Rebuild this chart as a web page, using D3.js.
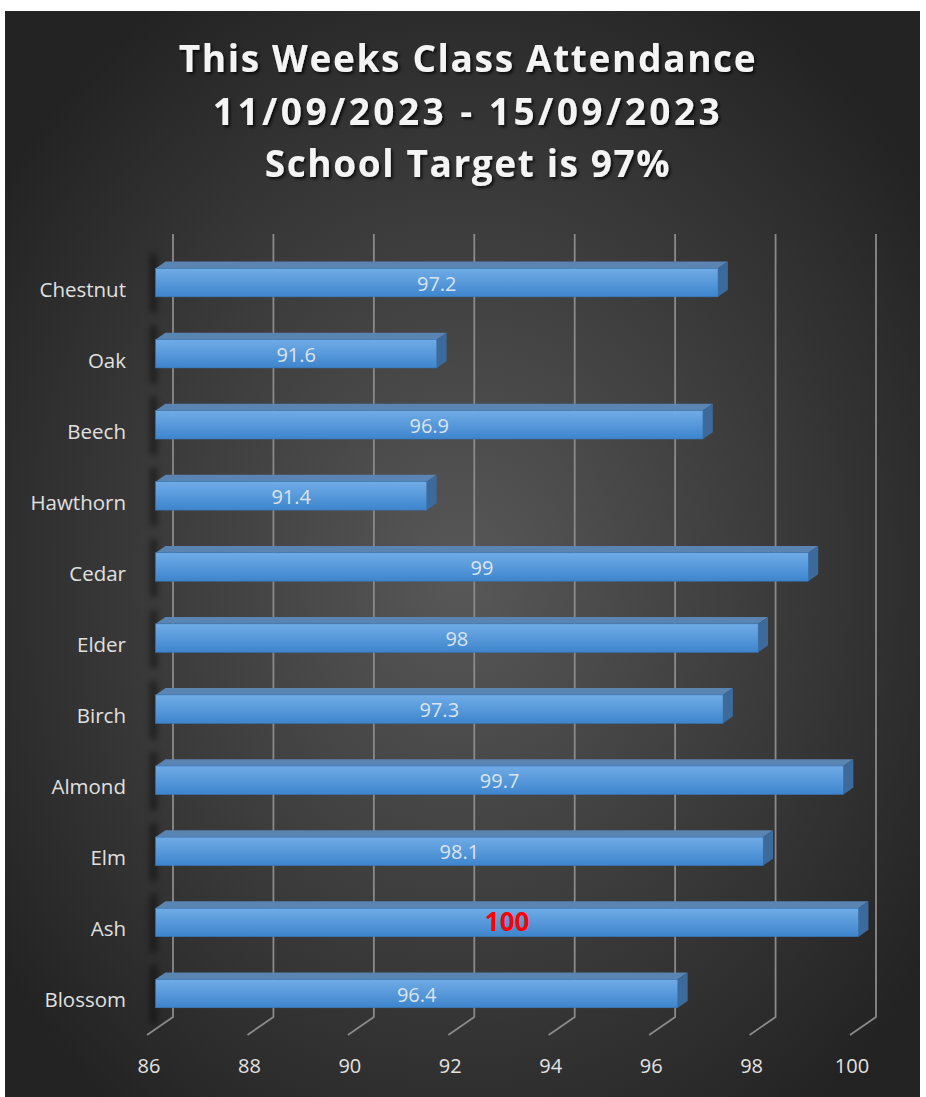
<!DOCTYPE html>
<html><head><meta charset="utf-8">
<script src="https://cdn.jsdelivr.net/npm/d3@7"></script>
<style>html,body{margin:0;padding:0;background:#fff;}svg{display:block;}</style>
</head><body>
<svg id="c" width="926" height="1097"></svg>
<script>
const titleLines = ["This Weeks Class Attendance", "11/09/2023 - 15/09/2023", "School Target is 97%"];
const categories = ["Chestnut","Oak","Beech","Hawthorn","Cedar","Elder","Birch","Almond","Elm","Ash","Blossom"];
const values = [97.2, 91.6, 96.9, 91.4, 99, 98, 97.3, 99.7, 98.1, 100, 96.4];
const tickValues = [86, 88, 90, 92, 94, 96, 98, 100];
const highlight = "Ash";

const svg = d3.select("#c");
const defs = svg.append("defs");
const bg = defs.append("radialGradient").attr("id","bg").attr("cx","50%").attr("cy","52%").attr("r","62%");
bg.append("stop").attr("offset","0%").attr("stop-color","#585858");
bg.append("stop").attr("offset","100%").attr("stop-color","#232323");
const fg = defs.append("linearGradient").attr("id","front").attr("x1",0).attr("y1",0).attr("x2",0).attr("y2",1);
fg.append("stop").attr("offset","0%").attr("stop-color","#70ace6");
fg.append("stop").attr("offset","100%").attr("stop-color","#3e85cd");
const sh = defs.append("filter").attr("id","tshadow").attr("x","-10%").attr("y","-20%").attr("width","120%").attr("height","150%");
sh.append("feDropShadow").attr("dx",2).attr("dy",2).attr("stdDeviation",1.5).attr("flood-color","#000").attr("flood-opacity",0.75);
const blur = defs.append("filter").attr("id","blur").attr("x","-200%").attr("y","-50%").attr("width","500%").attr("height","200%");
blur.append("feGaussianBlur").attr("stdDeviation",3);

svg.append("rect").attr("x",5).attr("y",11).attr("width",915).attr("height",1086).attr("fill","url(#bg)");

// 3D geometry
const DX = -26, DY = 18;           // full depth offset (back -> front)
const tBack = 0.29, tFront = 0.67; // bar depth positions
const x = d3.scaleLinear().domain([86,100]).range([173,876]);
const y = d3.scaleBand().domain(categories).range([235,1017]).paddingInner(0.6).paddingOuter(0.3);
const gridTop = 234, gridBottom = 1017;

// gridlines
const grid = svg.append("g").attr("stroke","#8a8a8a").attr("stroke-width",1.8).attr("fill","none");
tickValues.forEach(v => {
  grid.append("path").attr("d", `M${x(v)},${gridTop}L${x(v)},${gridBottom}L${x(v)+DX},${gridBottom+DY}`);
});

// tick labels
svg.append("g").selectAll("text").data(tickValues).join("text")
  .attr("x", d => x(d)+DX+2).attr("y", 1073)
  .attr("text-anchor","middle").attr("fill","#e2e2e2")
  .attr("font-family","'Open Sans', sans-serif").attr("font-size",20)
  .text(d => d);

// category labels
svg.append("g").selectAll("text").data(categories).join("text")
  .attr("x", 126).attr("y", d => y(d) + y.bandwidth()/2 + DY + 8)
  .attr("text-anchor","end").attr("fill","#e0e0e0")
  .attr("font-family","'Open Sans', sans-serif").attr("font-size",20.5)
  .text(d => d);

// bars
const data = categories.map((c,i) => ({c, v: values[i]}));
const bars = svg.append("g");
data.forEach(d => {
  const y0 = y(d.c), h = y.bandwidth();
  const xl = x(86), xr = x(d.v);
  const fx = DX*tFront, fy = DY*tFront, bx = DX*tBack, by = DY*tBack;
  const g = bars.append("g");
  g.append("rect").attr("x", xl+fx-5).attr("y", y0+fy-14).attr("width",6).attr("height", h+30)
    .attr("fill","#000").attr("opacity",0.5).attr("filter","url(#blur)");
  g.append("path").attr("d",
    `M${xl+fx},${y0+fy}L${xr+fx},${y0+fy}L${xr+bx},${y0+by}L${xl+bx},${y0+by}Z`)
    .attr("fill","#5a84b2");
  g.append("path").attr("d",
    `M${xr+fx},${y0+fy}L${xr+bx},${y0+by}L${xr+bx},${y0+by+h}L${xr+fx},${y0+fy+h}Z`)
    .attr("fill","#3b6a9b");
  g.append("rect").attr("x", xl+fx).attr("y", y0+fy).attr("width", xr-xl).attr("height", h)
    .attr("fill","url(#front)").attr("stroke","#3a78b8").attr("stroke-width",0.6);
  const hi = d.c === highlight;
  g.append("text")
    .attr("x", xl+fx + (xr-xl)/2).attr("y", y0+fy+h/2 + (hi ? 9 : 8))
    .attr("text-anchor","middle")
    .attr("fill", hi ? "#ff0000" : "#dbe4ee")
    .attr("font-weight", hi ? "bold" : "normal")
    .attr("font-family","'Open Sans', sans-serif")
    .attr("font-size", hi ? 26 : 20)
    .text(d.v);
});

// title
const targetW = [577, 507, 405];
const title = svg.append("g").attr("filter","url(#tshadow)");
title.selectAll("text").data(titleLines).join("text")
  .attr("x", 468).attr("y", (d,i) => 72 + i*52.5)
  .attr("text-anchor","middle").attr("fill","#f4f4f4")
  .attr("font-family","'Open Sans', sans-serif").attr("font-weight","bold").attr("font-size",37)
  .text(d => d)
  .each(function(d,i){
    const w = this.getComputedTextLength();
    const ls = Math.max(0, (targetW[i] - w) / (d.length - 1));
    d3.select(this).attr("letter-spacing", ls);
  });
</script>
</body></html>
